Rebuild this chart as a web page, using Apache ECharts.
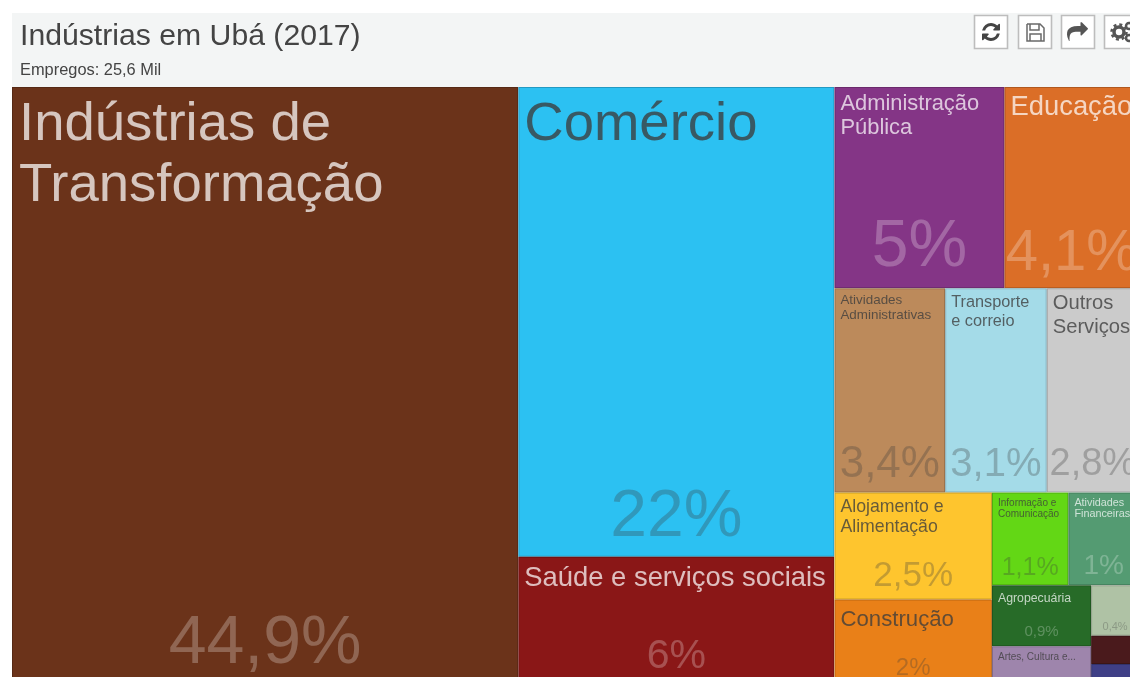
<!DOCTYPE html>
<html><head><meta charset="utf-8">
<style>html,body{margin:0;padding:0;background:#fff;overflow:hidden}#c{width:1130px;height:677px}</style>
<script src="https://cdn.jsdelivr.net/npm/echarts@6/dist/echarts.min.js"></script>
</head><body><div id="c"></div>
<script>
const chartTitle = 'Indústrias em Ubá (2017)';
const chartSubtitle = 'Empregos: 25,6 Mil';
const categories = ['Indústrias de\nTransformação','Comércio','Saúde e serviços sociais','Administração\nPública','Educação','Atividades\nAdministrativas','Transporte\ne correio','Outros\nServiços','Alojamento e\nAlimentação','Construção','Informação e\nComunicação','Atividades\nFinanceiras','Agropecuária','Artes, Cultura e...','','',''];
const values = [44.95,22.05,6.02,5.08,4.02,3.36,3.08,2.8,2.5,2,1.05,0.97,0.9,0.57,0.36,0.2,0.15];
const percentLabels = ['44,9%','22%','6%','5%','4,1%','3,4%','3,1%','2,8%','2,5%','2%','1,1%','1%','0,9%','','0,4%','',''];
const fillColors = ['#6b331a','#2cc1f2','#8a1717','#843586','#db6e27','#bc8a5b','#a4dbe8','#cbcbcb','#fec52e','#e98018','#63d715','#549b72','#276b28','#9e85ac','#afc2a5','#4a1a1c','#3f3f86'];
const lightText = [true,false,true,true,true,false,false,false,false,false,false,true,true,false,false,true,true];
const nameFontSizes = [54.5,54.5,27.4,21.9,27.4,13.4,16.3,20.2,17.7,22.2,10,10.8,12.3,10,9,9,9];
const nameLineHeights = [61,61,30,24,30,15,19,24,20,25,11,11,13,11,11,11,11];
const nameTopPads = [6,6,6,4,4,4,4,2,4,7,4,4,6,4,4,4,4];
const nameLeftPads = [6,5,5,5,5,5,5,5,5,5,5,5,5,5,5,5,5];
const percentFontSizes = [68,66,41,66,58,44,40,38,35,24,25,28,15,9,11,9,9];
const percentBottomGaps = [41,39,28,40,34,28,28,28,23,17,17,19,14,10,9,10,10];
// nesting of the item indices: each level is split along its short side
const layoutTree = [0,[1,2],[[3,4],[[5,6],7],[[8,9],[[10,11],[[12,13],[14,15,16]]]]]];

function darken(hex,f){
  const n=parseInt(hex.slice(1),16);
  return 'rgb('+[(n>>16)&255,(n>>8)&255,n&255].map(c=>Math.round(c*f)).join(',')+')';
}
function nameNode(i){
  return {name:categories[i]||' ',value:values[i],
    itemStyle:{color:fillColors[i],borderColor:darken(fillColors[i],0.8),borderWidth:1},
    label:{show:!!categories[i],position:'insideTopLeft',fontSize:nameFontSizes[i],lineHeight:nameLineHeights[i],overflow:'none',padding:[nameTopPads[i],nameLeftPads[i]],
      color:lightText[i]?'rgba(255,255,255,0.72)':'rgba(60,60,60,0.78)',fontFamily:'Liberation Sans'}};
}
function pctNode(i){
  return {name:percentLabels[i]||' ',value:values[i],
    itemStyle:{color:'rgba(0,0,0,0)',borderColor:'rgba(0,0,0,0)',borderWidth:0},
    label:{show:!!percentLabels[i],position:['50%','100%'],offset:[0,-percentBottomGaps[i]],align:'center',verticalAlign:'middle',padding:0,overflow:'none',
      fontSize:percentFontSizes[i],color:lightText[i]?'rgba(255,255,255,0.25)':'rgba(60,60,60,0.3)',fontFamily:'Liberation Sans'}};
}
function build(t,leaf){
  return t.map(n=>Array.isArray(n)?{name:'g',children:build(n,leaf)}:leaf(n));
}
const base = {type:'treemap',left:12,top:87,width:1127,height:598,roam:false,nodeClick:false,sort:false,squareRatio:1,
  breadcrumb:{show:false},visibleMin:0,animation:false};
const refreshPath='M1511 928q0 5-1 7-64 268-268 434.5t-478 166.5q-146 0-282.5-55t-243.5-157l-129 129q-19 19-45 19t-45-19-19-45v-448q0-26 19-45t45-19h448q26 0 45 19t19 45-19 45l-137 137q71 66 161 102t187 36q134 0 250-65t186-179q11-17 53-117 8-23 30-23h192q13 0 22.5 9.5t9.5 22.5zm25-800v448q0 26-19 45t-45 19h-448q-26 0-45-19t-19-45 19-45l138-138q-148-137-349-137-134 0-250 65t-186 179q-11 17-53 117-8 23-30 23h-199q-13 0-22.5-9.5t-9.5-22.5v-7q65-268 270-434.5t480-166.5q146 0 284 55.5t245 156.5l130-129q19-19 45-19t45 19 19 45z';
const sharePath='M1792 640q0 26-19 45l-512 512q-19 19-45 19t-45-19-19-45v-256h-224q-98 0-175.5 6t-154 21.5-133 42.5-105.5 69.5-79.5 103-48.5 144-17 192q0 55 5 123 0 6 2.5 23.5t2.5 26.5q0 15-8.5 25t-23.5 10q-16 0-28-17-7-9-13-22t-13.5-30-10.5-24q-127-285-127-451 0-199 53-333 162-403 875-403h224v-256q0-26 19-45t45-19 45 19l512 512q19 19 19 45z';
const btn=x=>({type:'rect',z:1,shape:{x:x+.5,y:15.5,width:33,height:33},style:{fill:'#fff',stroke:'#bdbdbd',lineWidth:1.6}});
const graphics=[
 {type:'rect',shape:{x:12,y:13,width:1118,height:74},style:{fill:'#f3f5f5'}},
 btn(974),btn(1018),btn(1061),btn(1104),
 {type:'polyline',z:2,shape:{points:[[1027,24],[1040,24],[1044,28],[1044,41],[1027,41],[1027,24]]},style:{fill:'none',stroke:'#6a6a6a',lineWidth:1.5}},
 {type:'polyline',z:2,shape:{points:[[1030,24],[1030,30],[1039,30],[1039,24]]},style:{fill:'none',stroke:'#6a6a6a',lineWidth:1.5}},
 {type:'polyline',z:2,shape:{points:[[1030,41],[1030,34],[1041,34],[1041,41]]},style:{fill:'none',stroke:'#6a6a6a',lineWidth:1.5}},
 {type:'circle',z:2,shape:{cx:1119,cy:32,r:5},style:{fill:'none',stroke:'#555',lineWidth:3.5}},
 {type:'circle',z:2,shape:{cx:1119,cy:32,r:7.5},style:{fill:'none',stroke:'#555',lineWidth:2.5,lineDash:[3,2.9]}},
 {type:'circle',z:2,shape:{cx:1129,cy:26,r:3},style:{fill:'none',stroke:'#555',lineWidth:2.5}},
 {type:'circle',z:2,shape:{cx:1129,cy:38,r:3},style:{fill:'none',stroke:'#555',lineWidth:2.5}}
];
const chart=echarts.init(document.getElementById('c'),null,{renderer:'canvas'});
chart.setOption({
 animation:false,backgroundColor:'#fff',
 title:{text:chartTitle,subtext:chartSubtitle,left:20,top:22,padding:0,itemGap:10,
   textStyle:{fontFamily:'Liberation Sans',fontWeight:'normal',fontSize:30.2,color:'#444'},
   subtextStyle:{fontFamily:'Liberation Sans',fontSize:16.4,color:'#444'}},
 graphic:graphics,
 tooltip:{show:false},
 series:[
  Object.assign({},base,{data:build(layoutTree,nameNode)}),
  Object.assign({},base,{silent:true,itemStyle:{color:'rgba(0,0,0,0)',borderColor:'rgba(0,0,0,0)',borderWidth:0},data:build(layoutTree,pctNode)})
 ]
});
const zr=chart.getZr();
[[refreshPath,{x:982,y:23,width:18,height:18},'#444'],[sharePath,{x:1067,y:21,width:21,height:21},'#555']].forEach(([p,r,c])=>{
  const el=echarts.graphic.makePath(p,{style:{fill:c},z:20,silent:true},r,'center');
  zr.add(el);
});
</script></body></html>
